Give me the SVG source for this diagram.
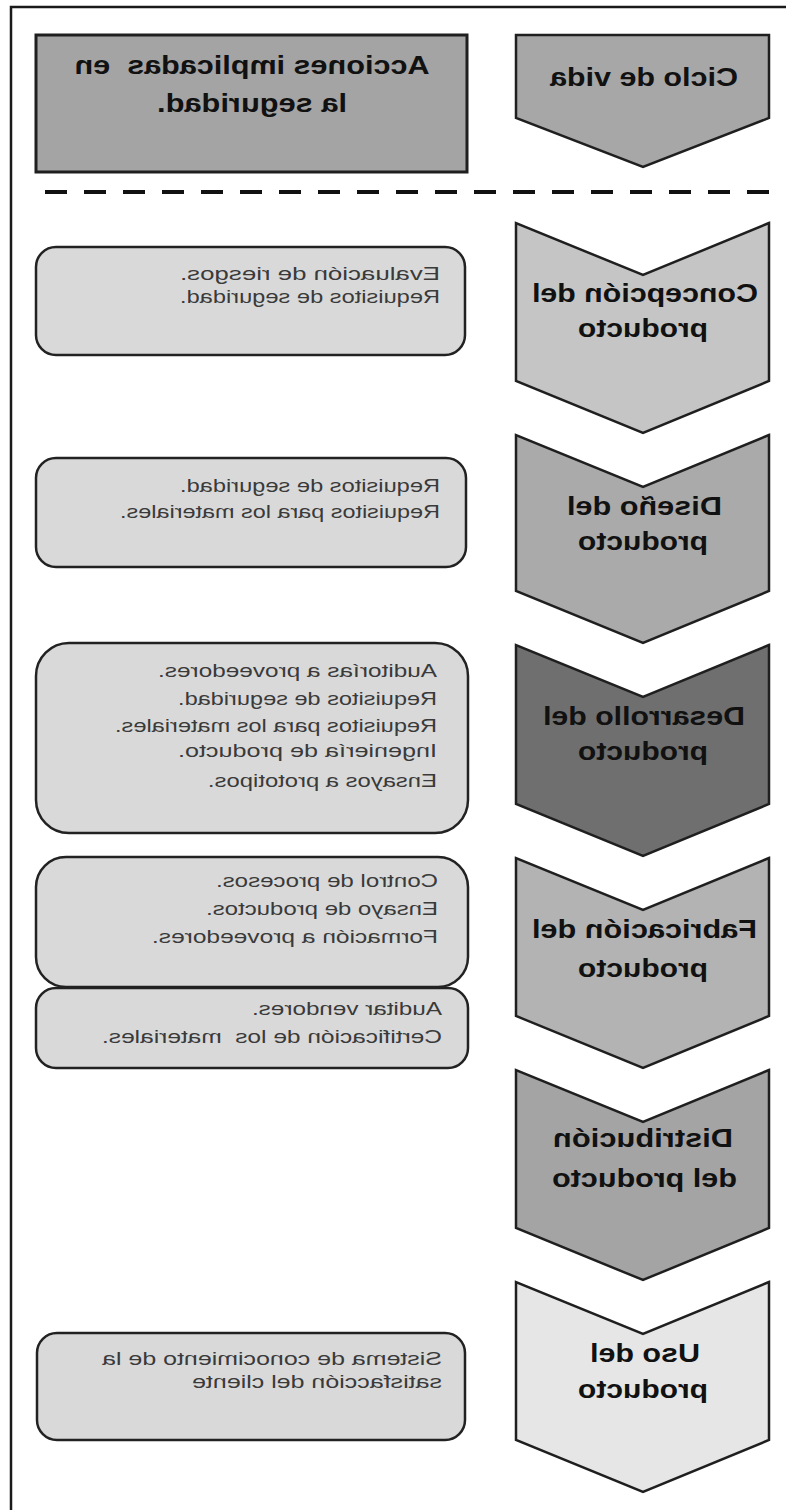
<svg xmlns="http://www.w3.org/2000/svg" width="786" height="1510" viewBox="0 0 786 1510">
  <style>
    .frame { fill: none; stroke: #1a1a1a; stroke-width: 2.5; }
    .chev { stroke: #1f1f1f; stroke-width: 2.5; stroke-linejoin: miter; }
    .box { fill: #d9d9d9; stroke: #222; stroke-width: 2.5; }
    .title { font-family: "Liberation Sans", Arial, sans-serif; font-weight: bold; font-size: 26px; fill: #111; text-anchor: middle; }
    .item { font-family: "Liberation Sans", Arial, sans-serif; font-size: 19px; fill: #3a3a3a; }
    .sep { stroke: #111; stroke-width: 4; stroke-dasharray: 22 17; }
  </style>
  <rect x="0" y="0" width="786" height="1510" fill="#ffffff"/>
  <!-- whole sheet is drawn in reading order and flipped left-right -->
  <g transform="matrix(-1 0 0 1 786 0)">
    <path class="frame" d="M0,7 H775 V1510"/>

    <g id="header-actions">
      <rect x="319" y="35" width="431" height="137" fill="#a4a4a4" stroke="#1f1f1f" stroke-width="3"/>
      <text class="title" x="534" y="74" textLength="355" lengthAdjust="spacingAndGlyphs" xml:space="preserve">Acciones implicadas  en</text>
      <text class="title" x="534" y="112" textLength="190" lengthAdjust="spacingAndGlyphs">la seguridad.</text>
    </g>

    <g id="header-lifecycle">
      <polygon class="chev" fill="#a7a7a7" points="17,35 270,35 270,118 143,167 17,118"/>
      <text class="title" x="142" y="86" textLength="188" lengthAdjust="spacingAndGlyphs">Ciclo de vida</text>
    </g>

    <g id="separator">
      <line class="sep" x1="17" y1="192" x2="741" y2="192"/>
    </g>

    <!-- stage 1 -->
    <g id="stage-concepcion">
      <polygon class="chev" fill="#c5c5c5" points="17,223 143,275 270,223 270,381 143,433 17,381"/>
      <text class="title" x="141" y="302" textLength="226" lengthAdjust="spacingAndGlyphs">Concepción del</text>
      <text class="title" x="143" y="337" textLength="130" lengthAdjust="spacingAndGlyphs">producto</text>
    </g>
    <g id="actions-concepcion">
      <rect class="box" x="321" y="247" width="429" height="108" rx="20"/>
      <text class="item" x="346" y="280" textLength="260" lengthAdjust="spacingAndGlyphs">Evaluación de riesgos.</text>
      <text class="item" x="346" y="303" textLength="260" lengthAdjust="spacingAndGlyphs">Requisitos de seguridad.</text>
    </g>

    <!-- stage 2 -->
    <g id="stage-diseno">
      <polygon class="chev" fill="#aaaaaa" points="17,435 143,487 270,435 270,591 143,643 17,591"/>
      <text class="title" x="141.5" y="515" textLength="155" lengthAdjust="spacingAndGlyphs">Diseño del</text>
      <text class="title" x="143" y="550" textLength="130" lengthAdjust="spacingAndGlyphs">producto</text>
    </g>
    <g id="actions-diseno">
      <rect class="box" x="320" y="458" width="430" height="109" rx="20"/>
      <text class="item" x="346" y="492" textLength="260" lengthAdjust="spacingAndGlyphs">Requisitos de seguridad.</text>
      <text class="item" x="346" y="518" textLength="320" lengthAdjust="spacingAndGlyphs">Requisitos para los materiales.</text>
    </g>

    <!-- stage 3 -->
    <g id="stage-desarrollo">
      <polygon class="chev" fill="#6f6f6f" points="17,645 143,697 270,645 270,804 143,856 17,804"/>
      <text class="title" x="142" y="725" textLength="202" lengthAdjust="spacingAndGlyphs">Desarrollo del</text>
      <text class="title" x="143" y="760" textLength="130" lengthAdjust="spacingAndGlyphs">producto</text>
    </g>
    <g id="actions-desarrollo">
      <rect class="box" x="318" y="643" width="432" height="190" rx="33"/>
      <text class="item" x="349" y="677" textLength="279" lengthAdjust="spacingAndGlyphs">Auditorías a proveedores.</text>
      <text class="item" x="349" y="705" textLength="259" lengthAdjust="spacingAndGlyphs">Requisitos de seguridad.</text>
      <text class="item" x="349" y="732" textLength="322" lengthAdjust="spacingAndGlyphs">Requisitos para los materiales.</text>
      <text class="item" x="349" y="757" textLength="259" lengthAdjust="spacingAndGlyphs">Ingeniería de producto.</text>
      <text class="item" x="349" y="787" textLength="229" lengthAdjust="spacingAndGlyphs">Ensayos a prototipos.</text>
    </g>

    <!-- stage 4 -->
    <g id="stage-fabricacion">
      <polygon class="chev" fill="#b3b3b3" points="17,858 143,910 270,858 270,1016 143,1068 17,1016"/>
      <text class="title" x="141.5" y="938" textLength="225" lengthAdjust="spacingAndGlyphs">Fabricación del</text>
      <text class="title" x="143" y="977" textLength="130" lengthAdjust="spacingAndGlyphs">producto</text>
    </g>
    <g id="actions-fabricacion">
      <rect class="box" x="318" y="857" width="432" height="130" rx="30"/>
      <text class="item" x="348" y="887" textLength="222" lengthAdjust="spacingAndGlyphs">Control de procesos.</text>
      <text class="item" x="348" y="915" textLength="232" lengthAdjust="spacingAndGlyphs">Ensayo de productos.</text>
      <text class="item" x="348" y="943" textLength="286" lengthAdjust="spacingAndGlyphs">Formación a proveedores.</text>
    </g>
    <g id="actions-fabricacion-vendors">
      <rect class="box" x="318" y="988" width="432" height="80" rx="20"/>
      <text class="item" x="344" y="1015" textLength="190" lengthAdjust="spacingAndGlyphs">Auditar vendores.</text>
      <text class="item" x="344" y="1043" textLength="340" lengthAdjust="spacingAndGlyphs" xml:space="preserve">Certificación de los  materiales.</text>
    </g>

    <!-- stage 5 -->
    <g id="stage-distribucion">
      <polygon class="chev" fill="#a4a4a4" points="17,1070 143,1122 270,1070 270,1228 143,1280 17,1228"/>
      <text class="title" x="143" y="1147" textLength="180" lengthAdjust="spacingAndGlyphs">Distribución</text>
      <text class="title" x="141.5" y="1187" textLength="185" lengthAdjust="spacingAndGlyphs">del producto</text>
    </g>

    <!-- stage 6 -->
    <g id="stage-uso">
      <polygon class="chev" fill="#e6e6e6" points="17,1282 143,1334 270,1282 270,1440 143,1492 17,1440"/>
      <text class="title" x="141" y="1362" textLength="110" lengthAdjust="spacingAndGlyphs">Uso del</text>
      <text class="title" x="143" y="1398" textLength="130" lengthAdjust="spacingAndGlyphs">producto</text>
    </g>
    <g id="actions-uso">
      <rect class="box" x="321" y="1333" width="428" height="107" rx="20"/>
      <text class="item" x="344" y="1365" textLength="340" lengthAdjust="spacingAndGlyphs">Sistema de conocimiento de la</text>
      <text class="item" x="344" y="1388" textLength="250" lengthAdjust="spacingAndGlyphs">satisfacción del cliente</text>
    </g>
  </g>
</svg>
